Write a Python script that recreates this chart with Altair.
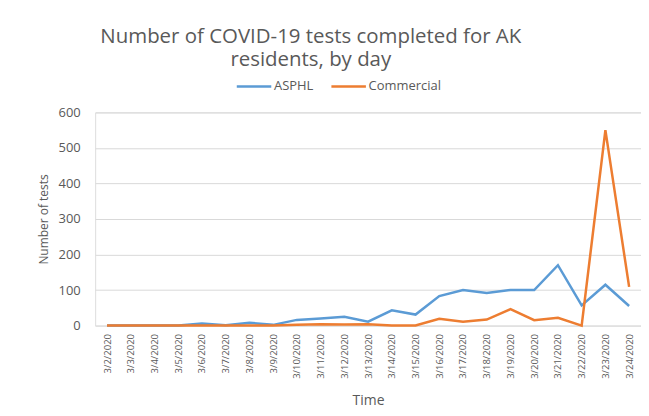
import altair as alt
import pandas as pd

dates = ["3/2/2020", "3/3/2020", "3/4/2020", "3/5/2020", "3/6/2020", "3/7/2020",
         "3/8/2020", "3/9/2020", "3/10/2020", "3/11/2020", "3/12/2020", "3/13/2020",
         "3/14/2020", "3/15/2020", "3/16/2020", "3/17/2020", "3/18/2020", "3/19/2020",
         "3/20/2020", "3/21/2020", "3/22/2020", "3/23/2020", "3/24/2020"]
asphl = [0, 0, 0, 0, 6, 1, 8, 2, 16, 20, 25, 11, 43, 31, 83, 100, 92, 100, 100, 170, 57, 115, 55]
commercial = [0, 0, 0, 0, 0, 0, 0, 0, 2, 4, 3, 4, 0, 0, 19, 11, 17, 46, 15, 22, 0, 550, 109]
series_names = ["ASPHL", "Commercial"]
series_colors = ["#5B9BD5", "#ED7D31"]
y_ticks = [0, 100, 200, 300, 400, 500, 600]

rows = []
for name, vals in zip(series_names, [asphl, commercial]):
    for d, v in zip(dates, vals):
        rows.append({"date": d, "series": name, "value": v})
df = pd.DataFrame(rows)

FONT = "Open Sans"
GRAY = "#595959"

chart = alt.Chart(df).mark_line(strokeWidth=2.5).encode(
    x=alt.X("date:N", sort=dates, scale=alt.Scale(padding=0.5),
            axis=alt.Axis(title="Time", labelAngle=-90, labelPadding=8, ticks=False, tickSize=0,
                          domain=False, grid=False, labelFontSize=9.5, labelColor=GRAY,
                          labelFont=FONT, titleFont=FONT, titleFontSize=14, titleColor=GRAY,
                          titleFontWeight="normal", titlePadding=15)),
    y=alt.Y("value:Q", scale=alt.Scale(domain=[0, 600]),
            axis=alt.Axis(title="Number of tests", values=y_ticks, ticks=False, tickSize=0,
                          domain=False, grid=True, gridColor="#d9d9d9", gridWidth=1,
                          labelPadding=15, labelFontSize=13, labelColor=GRAY, labelFont=FONT,
                          titleFont=FONT, titleFontSize=12, titleColor=GRAY,
                          titleFontWeight="normal", titlePadding=8)),
    color=alt.Color("series:N",
                    scale=alt.Scale(domain=series_names, range=series_colors),
                    legend=alt.Legend(title=None, orient="none", direction="horizontal",
                                      legendX=140.5, legendY=-45, symbolType="stroke",
                                      symbolSize=1200, symbolStrokeWidth=2.5, labelFont=FONT,
                                      labelFontSize=13, labelColor=GRAY, labelOffset=1,
                                      columnPadding=12, padding=0)),
).properties(
    width=548,
    height=214,
    padding={"left": 87.5, "top": 104, "right": 0, "bottom": 100},
    autosize=alt.AutoSizeParams(type="none"),
    title=alt.TitleParams(text=["Number of COVID-19 tests completed for AK", "residents, by day"],
                          anchor="middle", frame="group", dx=-57.5, offset=-3,
                          font=FONT, fontSize=20.5, fontWeight="normal", color=GRAY,
                          lineHeight=23),
).configure_view(stroke=None).configure(background="white")

chart.save("out.html", embed_options={"renderer": "svg", "actions": False})
